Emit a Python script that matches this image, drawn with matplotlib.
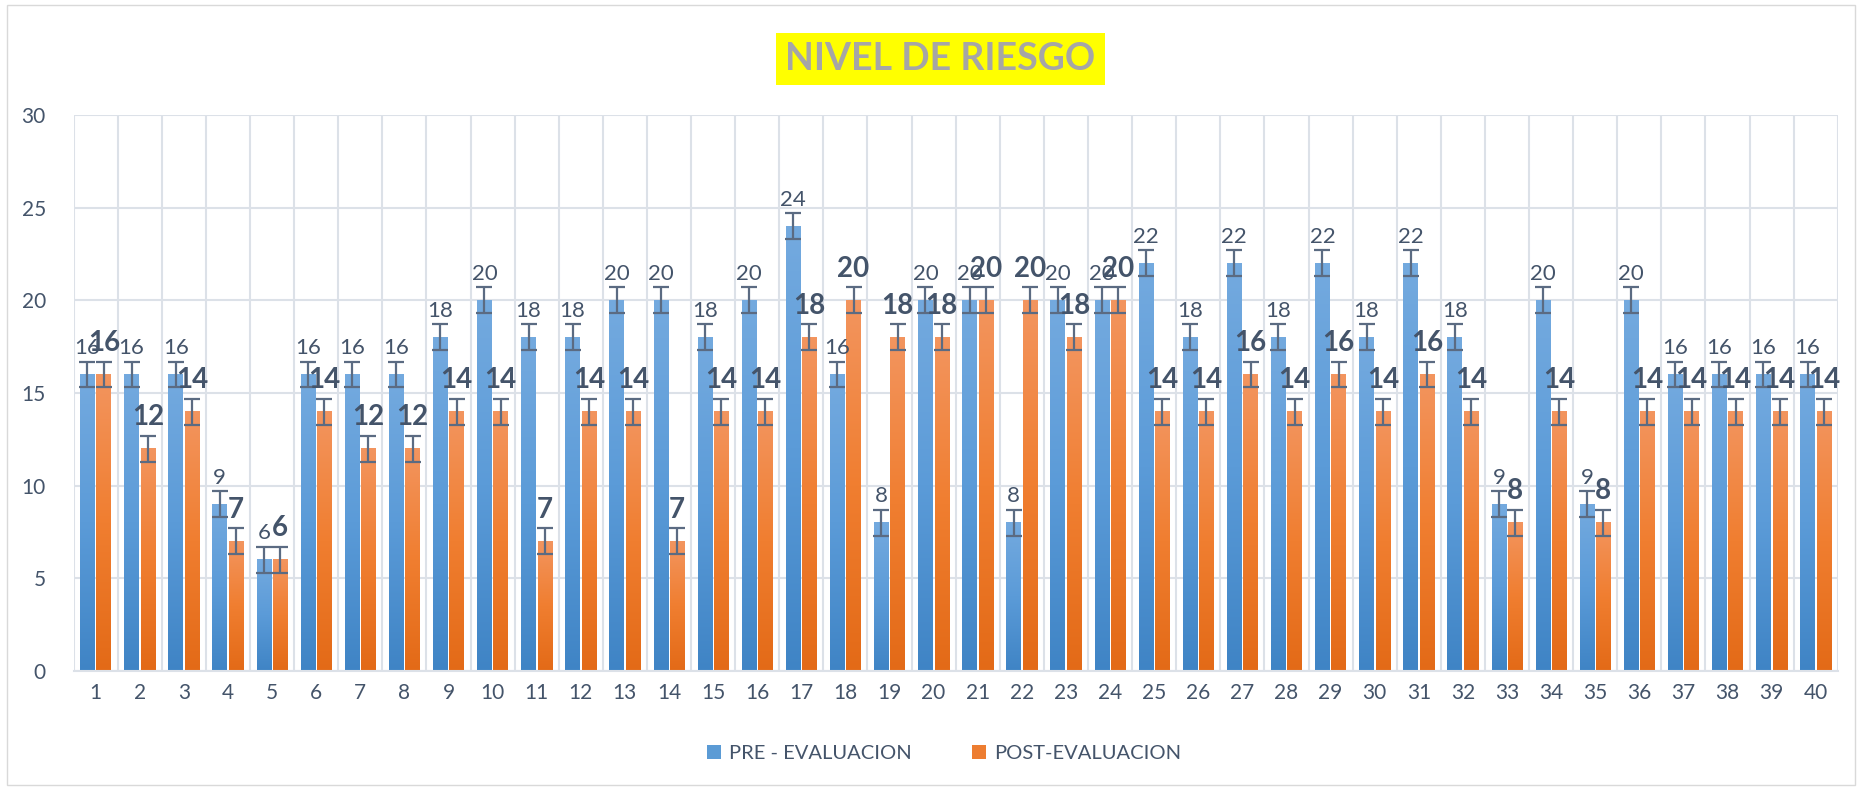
import numpy as np
import matplotlib
matplotlib.use("Agg")
import matplotlib.pyplot as plt
from matplotlib.patches import Patch, Rectangle
from matplotlib.colors import LinearSegmentedColormap

plt.rcParams['font.family'] = ['Lato', 'DejaVu Sans']

# Data
categories = list(range(1, 41))
pre_eval = [16, 16, 16, 9, 6, 16, 16, 16, 18, 20,
            18, 18, 20, 20, 18, 20, 24, 16, 8, 20,
            20, 8, 20, 20, 22, 18, 22, 18, 22, 18,
            22, 18, 9, 20, 9, 20, 16, 16, 16, 16]
post_eval = [16, 12, 14, 7, 6, 14, 12, 12, 14, 14,
             7, 14, 14, 7, 14, 14, 18, 20, 18, 18,
             20, 20, 18, 20, 14, 14, 16, 14, 16, 14,
             16, 14, 8, 14, 8, 14, 14, 14, 14, 14]
err_amount = 0.7
series_names = ["PRE - EVALUACION", "POST-EVALUACION"]
title_text = "NIVEL DE RIESGO"

TEXT = '#44546A'
GRID = '#DCE1E8'
blue_cmap = LinearSegmentedColormap.from_list('b', ['#3F84C5', '#5B9BD8', '#74AADF'])
orange_cmap = LinearSegmentedColormap.from_list('o', ['#E36A17', '#F07E30', '#F3955F'])

fig = plt.figure(figsize=(18.62, 7.88), dpi=100)
ax = fig.add_axes([0.0395, 0.1485, 0.9475, 0.7055])

# chart border
fig.patches.append(Rectangle((0.004, 0.004), 0.992, 0.99, transform=fig.transFigure,
                             fill=False, edgecolor='#D9D9D9', linewidth=1))

x = np.array(categories)
width = 0.33
off = 0.185
grad = np.linspace(0, 1, 256).reshape(-1, 1)

def grad_bars(xs, vals, cmap):
    for xi, v in zip(xs, vals):
        ax.imshow(grad, cmap=cmap, origin='lower', aspect='auto',
                  extent=[xi - width / 2, xi + width / 2, 0, v], zorder=2)

grad_bars(x - off, pre_eval, blue_cmap)
grad_bars(x + off, post_eval, orange_cmap)

ax.errorbar(x - off, pre_eval, yerr=err_amount, fmt='none', ecolor='#5B6B82',
            elinewidth=1.6, capsize=5.5, capthick=1.6, zorder=3)
ax.errorbar(x + off, post_eval, yerr=err_amount, fmt='none', ecolor='#5B6B82',
            elinewidth=1.6, capsize=5.5, capthick=1.6, zorder=3)

for xi, v in zip(x - off, pre_eval):
    ax.text(xi, v + err_amount + 0.2, str(v), ha='center', va='bottom',
            fontsize=16, color=TEXT, zorder=4)
for xi, v in zip(x + off, post_eval):
    ax.text(xi, v + err_amount + 0.3, str(v), ha='center', va='bottom',
            fontsize=20, fontweight='bold', color=TEXT, zorder=4)

ax.set_xlim(0.5, 40.5)
ax.set_ylim(0, 30)
ax.set_yticks(range(0, 31, 5))
ax.set_xticks(x)
ax.set_xticklabels([str(c) for c in categories])
ax.set_xticks(np.arange(0.5, 41, 1), minor=True)
ax.grid(True, axis='y', which='major', color=GRID, linewidth=1.5, zorder=0)
ax.grid(True, axis='x', which='minor', color=GRID, linewidth=1.5, zorder=0)
ax.set_axisbelow(True)
ax.tick_params(axis='both', which='both', length=0, labelsize=15, colors=TEXT)
ax.tick_params(axis='x', pad=9)
ax.tick_params(axis='y', pad=20)
for s in ['top', 'right', 'left']:
    ax.spines[s].set_visible(False)
ax.spines['bottom'].set_color(GRID)
ax.spines['bottom'].set_linewidth(1.5)

fig.text(0.505, 0.925, title_text, ha='center', va='center', fontsize=27,
         fontweight='bold', color='#A6A6A6',
         bbox=dict(boxstyle='square,pad=0.25', facecolor='#FFFF00', edgecolor='none'))

handles = [Patch(facecolor='#5B9BD5', label=series_names[0]),
           Patch(facecolor='#ED7D31', label=series_names[1])]
fig.legend(handles=handles, loc='center', bbox_to_anchor=(0.507, 0.044), ncol=2,
           frameon=False, fontsize=14.5, labelcolor=TEXT, handlelength=0.7,
           handleheight=0.7, handletextpad=0.4, columnspacing=3.0)

fig.savefig('out.png', dpi=100)
